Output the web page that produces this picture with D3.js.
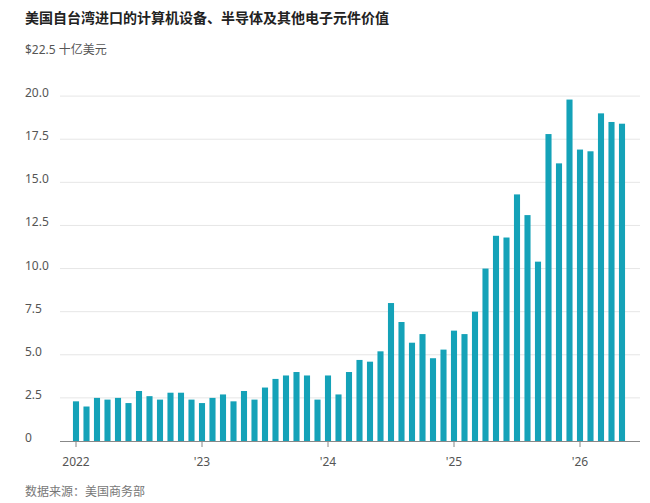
<!DOCTYPE html>
<html><head><meta charset="utf-8">
<script src="https://cdn.jsdelivr.net/npm/d3@7"></script>
<style>
body{margin:0;background:#fff;font-family:"Noto Sans CJK SC","Noto Sans",sans-serif;}
.num{font-family:"Noto Sans","Noto Sans CJK SC",sans-serif;}
</style></head>
<body><div id="chart"></div>
<script>
// monthly values, Jan 2022 .. May 2026, billions USD
var values2022 = [2.3, 2.0, 2.5, 2.4, 2.5, 2.2, 2.9, 2.6, 2.4, 2.8, 2.8, 2.4];
var values2023 = [2.2, 2.5, 2.7, 2.3, 2.9, 2.4, 3.1, 3.6, 3.8, 4.0, 3.8, 2.4];
var values2024 = [3.8, 2.7, 4.0, 4.7, 4.6, 5.2, 8.0, 6.9, 5.7, 6.2, 4.8, 5.3];
var values2025 = [6.4, 6.2, 7.5, 10.0, 11.9, 11.8, 14.3, 13.1, 10.4, 17.8, 16.1, 19.8];
var values2026 = [16.9, 16.8, 19.0, 18.5, 18.4];
var yTicks = [0, 2.5, 5, 7.5, 10, 12.5, 15, 17.5, 20, 22.5];
var yearLabels = ["2022", "'23", "'24", "'25", "'26"];

var values = values2022.concat(values2023, values2024, values2025, values2026);
var data = values.map(function(v, i){ return {i: i, v: v}; });

var W = 650, H = 503;
var svg = d3.select("#chart").append("svg").attr("width", W).attr("height", H);

var x = d3.scaleBand().domain(d3.range(data.length))
    .range([70.75, 70.75 + data.length * 10.5]).paddingInner(0.42).paddingOuter(0.21);
var y = d3.scaleLinear().domain([0, 22.5]).range([441, 53]);

// title
svg.append("text").attr("x", 25).attr("y", 23)
    .attr("font-size", 14).attr("font-weight", "bold").attr("fill", "#222")
    .text("美国自台湾进口的计算机设备、半导体及其他电子元件价值");

// gridlines + labels
yTicks.forEach(function(t){
    if (t > 0 && t < 22.5) {
        svg.append("line").attr("x1", 60).attr("x2", 640)
            .attr("y1", y(t)).attr("y2", y(t))
            .attr("stroke", "#e6e6e6").attr("stroke-width", 1);
    }
    svg.append("text").attr("class", "num").attr("x", 25).attr("y", y(t) + 1)
        .attr("font-size", 12).attr("fill", "#555")
        .text(t == 22.5 ? "$22.5 十亿美元" : d3.format(".1f")(t).replace(/^0\.0$/, "0"));
});

// bars
svg.selectAll(".bar").data(data).enter().append("rect")
    .attr("class", "bar")
    .attr("x", function(d){ return x(d.i); })
    .attr("width", x.bandwidth())
    .attr("y", function(d){ return y(d.v); })
    .attr("height", function(d){ return y(0) - y(d.v); })
    .attr("fill", "#14a2b8");

// baseline
svg.append("line").attr("x1", 60).attr("x2", 640)
    .attr("y1", y(0) + 0.5).attr("y2", y(0) + 0.5)
    .attr("stroke", "#888").attr("stroke-width", 1.2);

// year ticks
yearLabels.forEach(function(lab, k){
    var cx = x(k * 12) + x.bandwidth() / 2;
    svg.append("line").attr("x1", cx).attr("x2", cx)
        .attr("y1", y(0)).attr("y2", y(0) + 6)
        .attr("stroke", "#888");
    svg.append("text").attr("class", "num").attr("x", cx).attr("y", 466)
        .attr("text-anchor", "middle").attr("font-size", 12).attr("fill", "#555")
        .text(lab);
});

svg.append("text").attr("x", 25).attr("y", 496)
    .attr("font-size", 12).attr("fill", "#777")
    .text("数据来源：美国商务部");
</script>
</body></html>
